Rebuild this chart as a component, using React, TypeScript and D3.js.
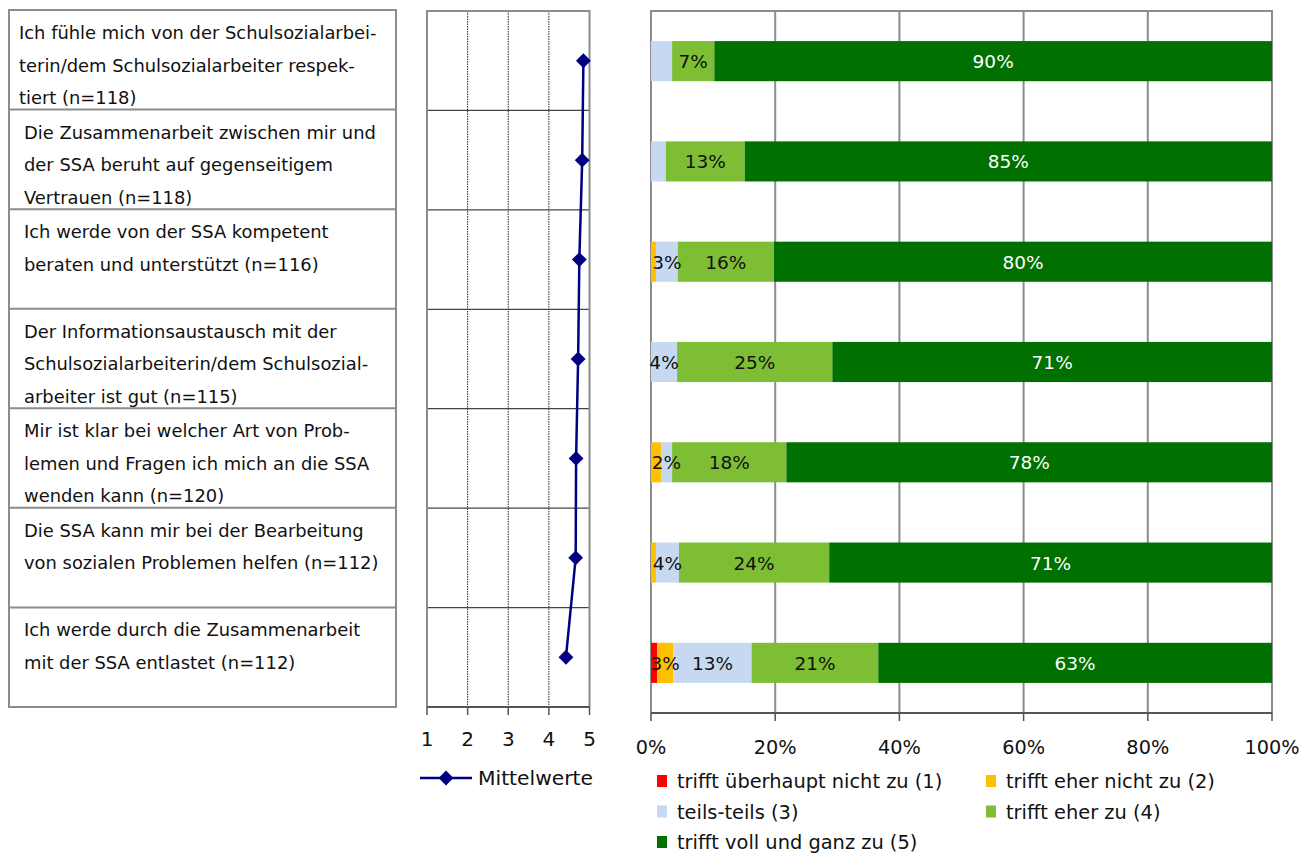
import React from "react";
import * as d3 from "d3";

// ---------- DATA ----------
const statements: string[][] = [
  ["Ich fühle mich von der Schulsozialarbei-", "terin/dem Schulsozialarbeiter respek-", "tiert (n=118)"],
  ["Die Zusammenarbeit zwischen mir und", "der SSA beruht auf gegenseitigem", "Vertrauen (n=118)"],
  ["Ich werde von der SSA kompetent", "beraten und unterstützt (n=116)"],
  ["Der Informationsaustausch mit der", "Schulsozialarbeiterin/dem Schulsozial-", "arbeiter ist gut (n=115)"],
  ["Mir ist klar bei welcher Art von Prob-", "lemen und Fragen ich mich an die SSA", "wenden kann (n=120)"],
  ["Die SSA kann mir bei der Bearbeitung", "von sozialen Problemen helfen (n=112)"],
  ["Ich werde durch die Zusammenarbeit", "mit der SSA entlastet (n=112)"],
];

const means = [4.85, 4.82, 4.75, 4.72, 4.67, 4.66, 4.42];
const meanLegend = "Mittelwerte";
const meanTicks = [1, 2, 3, 4, 5];

const seriesNames = [
  "trifft überhaupt nicht zu (1)",
  "trifft eher nicht zu (2)",
  "teils-teils (3)",
  "trifft eher zu (4)",
  "trifft voll und ganz zu (5)",
];
const triffUeberhauptNicht = [0, 0, 0, 0, 0, 0, 1.0];
const triffEherNicht = [0, 0, 0.8, 0, 1.6, 0.8, 2.6];
const teilsTeils = [3.4, 2.4, 3.5, 4.2, 1.8, 3.7, 12.6];
const triffEherZu = [6.8, 12.7, 15.5, 25.0, 18.4, 24.2, 20.4];
const triffVoll = [89.8, 84.9, 80.2, 70.8, 78.2, 71.3, 63.4];

const labels1 = ["", "", "", "", "", "", ""];
const labels2 = ["", "", "", "", "", "", "3%"];
const labels3 = ["", "", "3%", "4%", "2%", "4%", "13%"];
const labels4 = ["7%", "13%", "16%", "25%", "18%", "24%", "21%"];
const labels5 = ["90%", "85%", "80%", "71%", "78%", "71%", "63%"];

const pctTicks = [0, 20, 40, 60, 80, 100];

// ---------- STYLE ----------
const colors = ["#FF0000", "#FFC000", "#C6D9F1", "#7DBE35", "#007000"];
const FONT = "'DejaVu Sans', sans-serif";
const GRAY = "#8c8c8c";

export default function App() {
  const seriesValues = [triffUeberhauptNicht, triffEherNicht, teilsTeils, triffEherZu, triffVoll];
  const seriesLabels = [labels1, labels2, labels3, labels4, labels5];
  const rows = statements.map((_, i) => {
    const o: any = { row: i };
    seriesValues.forEach((arr, k) => (o["s" + k] = arr[i]));
    return o;
  });
  const keys = seriesValues.map((_, k) => "s" + k);
  const stacked = d3.stack().keys(keys)(rows);

  const idx = d3.range(statements.length);

  // table
  const tableY = d3.scaleBand<number>().domain(idx).range([10, 707]);
  const tableX0 = 9, tableX1 = 396;

  // means chart
  const mx = d3.scaleLinear().domain([1, 5]).range([427, 589.5]);
  const my = d3.scaleBand<number>().domain(idx).range([11, 707]);
  const lineGen = d3
    .line<number>()
    .x((d) => mx(d))
    .y((_, i) => my(i)! + my.bandwidth() / 2);
  const diamond = d3.symbol().type(d3.symbolSquare).size(110)();

  // bar chart
  const bx = d3.scaleLinear().domain([0, 100]).range([651, 1272]);
  const by = d3.scaleBand<number>().domain(idx).range([11, 713]).paddingInner(0.6).paddingOuter(0.3);

  return (
    <svg
      width={1301}
      height={853}
      style={{ position: "absolute", left: 0, top: 0, background: "#fff" }}
      fontFamily={FONT}
    >
      {/* ---------- table ---------- */}
      <g>
        {idx.map((i) => (
          <g key={"row" + i}>
            {i > 0 && (
              <line x1={tableX0} x2={tableX1} y1={tableY(i)} y2={tableY(i)} stroke={GRAY} strokeWidth={2} />
            )}
            {statements[i].map((t, j) => (
              <text
                key={j}
                x={i === 0 ? 19 : 24}
                y={tableY(i)! + 29 + j * 32.5}
                fontSize={17.9}
                fill="#111"
              >
                {t}
              </text>
            ))}
          </g>
        ))}
        <rect
          x={tableX0}
          y={10}
          width={tableX1 - tableX0}
          height={707 - 10}
          fill="none"
          stroke={GRAY}
          strokeWidth={2}
        />
      </g>

      {/* ---------- means chart ---------- */}
      <g>
        {[2, 3, 4].map((v) => (
          <line key={v} x1={mx(v)} x2={mx(v)} y1={11} y2={707} stroke="#222" strokeWidth={1} strokeDasharray="1.5,1" />
        ))}
        {idx.slice(1).map((i) => (
          <line key={i} x1={mx(1)} x2={mx(5)} y1={my(i)} y2={my(i)} stroke="#444" strokeWidth={1.2} />
        ))}
        <path d={`M${mx(1)},707V11H${mx(5)}V707`} fill="none" stroke={GRAY} strokeWidth={2} />
        <line x1={mx(1)} x2={mx(5)} y1={707} y2={707} stroke="#555" strokeWidth={2} />
        {meanTicks.map((t) => (
          <g key={t}>
            <line x1={mx(t)} x2={mx(t)} y1={707} y2={715} stroke="#555" strokeWidth={1.5} />
            <text x={mx(t)} y={745.5} textAnchor="middle" fontSize={20} fill="#111">
              {t}
            </text>
          </g>
        ))}
        <path d={lineGen(means)!} fill="none" stroke="#000080" strokeWidth={2.5} />
        {means.map((m, i) => (
          <path
            key={i}
            d={diamond!}
            transform={`translate(${mx(m)},${my(i)! + my.bandwidth() / 2}) rotate(45)`}
            fill="#000080"
          />
        ))}
        {/* legend */}
        <line x1={420} x2={472} y1={778} y2={778} stroke="#000080" strokeWidth={2.5} />
        <path d={diamond!} transform="translate(446,778) rotate(45)" fill="#000080" />
        <text x={478} y={785} fontSize={20.3} fill="#111">
          {meanLegend}
        </text>
      </g>

      {/* ---------- bar chart ---------- */}
      <g>
        {pctTicks.slice(1, -1).map((t) => (
          <line key={t} x1={bx(t)} x2={bx(t)} y1={11} y2={713} stroke={GRAY} strokeWidth={2} />
        ))}
        <path d={`M${bx(0)},713V11H${bx(100)}V713`} fill="none" stroke={GRAY} strokeWidth={2} />
        {stacked.map((s, k) =>
          s.map((d, i) =>
            d[1] - d[0] > 0 ? (
              <rect
                key={k + "-" + i}
                x={bx(d[0])}
                y={by(i)}
                width={bx(d[1]) - bx(d[0])}
                height={by.bandwidth()}
                fill={colors[k]}
              />
            ) : null
          )
        )}
        {stacked.map((s, k) =>
          s.map((d, i) =>
            seriesLabels[k][i] ? (
              <text
                key={"l" + k + "-" + i}
                x={bx((d[0] + d[1]) / 2)}
                y={by(i)! + by.bandwidth() / 2 + 7}
                textAnchor="middle"
                fontSize={18.5}
                fill={k === 4 ? "#fff" : "#111"}
              >
                {seriesLabels[k][i]}
              </text>
            ) : null
          )
        )}
        <line x1={bx(0)} x2={bx(100)} y1={713} y2={713} stroke="#555" strokeWidth={2} />
        {pctTicks.map((t) => (
          <g key={t}>
            <line x1={bx(t)} x2={bx(t)} y1={713} y2={721} stroke="#555" strokeWidth={1.5} />
            <text x={bx(t)} y={754} textAnchor="middle" fontSize={19.3} fill="#111">
              {t + "%"}
            </text>
          </g>
        ))}
        {/* legend */}
        {seriesNames.map((name, k) => {
          const col = k % 2;
          const r = Math.floor(k / 2);
          const x = col === 0 ? 657 : 986;
          const y = 781 + r * 30.5;
          return (
            <g key={name}>
              <rect x={x} y={y - 6} width={10} height={12} fill={colors[k]} />
              <text x={x + 20} y={y + 7} fontSize={19.4} fill="#111">
                {name}
              </text>
            </g>
          );
        })}
      </g>
    </svg>
  );
}
